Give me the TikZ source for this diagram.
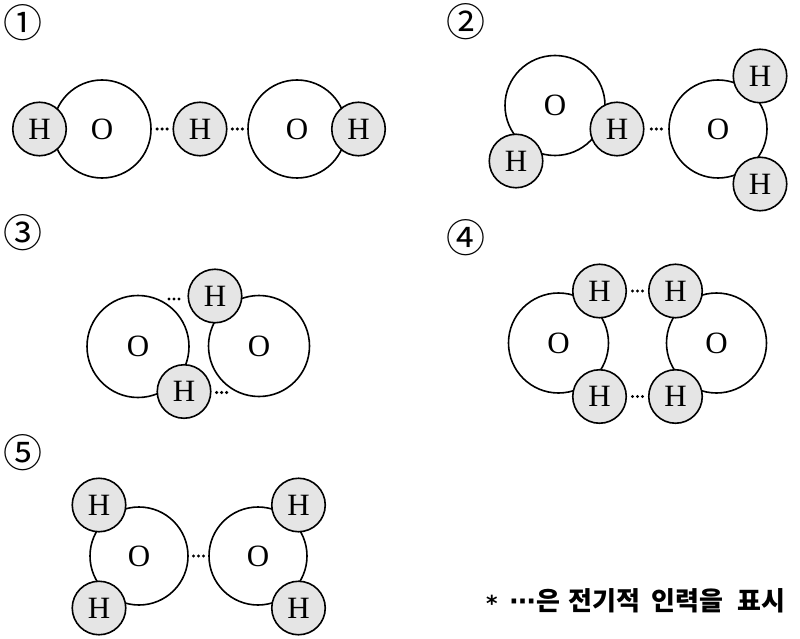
\documentclass[tikz,border=0pt]{standalone}
\usepackage{fontspec}
\setmainfont{Liberation Serif}
\newfontfamily\numfont{DejaVu Sans}
\newfontfamily\krfont{Noto Sans CJK KR}
\usetikzlibrary{calc}
\tikzset{
  atomO/.style={circle, draw, line width=1.6pt, fill=white, minimum size=98pt, inner sep=0pt, font=\fontsize{31}{31}\selectfont},
  atomH/.style={circle, draw, line width=1.6pt, fill=black!10, minimum size=53.5pt, inner sep=0pt, font=\fontsize{31}{31}\selectfont},
  hbond/.style={line width=3.4pt, line cap=round, dash pattern=on 0pt off 5pt},
  numlabel/.style={inner sep=0pt, font=\krfont\fontsize{39}{39}\selectfont},
}
\begin{document}
\begin{tikzpicture}[x=1pt,y=-1pt]
\useasboundingbox[fill=white] (0,0) rectangle (800,639);

% labels
\node[numlabel] (n1) at (22.7,23) {①};
\node[numlabel] (n2) at (465.5,22) {②};
\node[numlabel] (n3) at (22.7,233) {③};
\node[numlabel] (n4) at (465.5,237.5) {④};
\node[numlabel] (n5) at (22.7,452.7) {⑤};

% ---------- 1 ----------
\node[atomO] (O1a) at (102,129) {O};
\node[atomO] (O1b) at (297,129) {O};
\node[atomH] (H1a) at (39.5,129) {H};
\node[atomH] (H1m) at (200,129) {H};
\node[atomH] (H1b) at (358.5,129) {H};
\draw[hbond] ($(O1a.east)!0.5!(H1m.west)$) ++(-5,0) -- ++(10.2,0);
\draw[hbond] ($(H1m.east)!0.5!(O1b.west)$) ++(-5,0) -- ++(10.2,0);

% ---------- 2 ----------
\node[atomO, minimum size=100pt] (O2a) at (555,105.5) {O};
\node[atomO] (O2b) at (718,129) {O};
\node[atomH] (H2a) at (516,161) {H};
\node[atomH] (H2b) at (617,129) {H};
\node[atomH] (H2c) at (760,76) {H};
\node[atomH] (H2d) at (760,184) {H};
\draw[hbond] ($(H2b.east)!0.5!(O2b.west)$) ++(-5,0) -- ++(10.2,0);

% ---------- 3 ----------
\node[atomO, minimum size=102pt] (O3a) at (138,346.5) {O};
\node[atomO, minimum size=101pt] (O3b) at (259,346) {O};
\node[atomH] (H3a) at (215,296) {H};
\node[atomH] (H3b) at (184,391.5) {H};
\draw[hbond] ($(H3a.west)+(-13.5,3)$) ++(-5,0) -- ++(10.2,0);
\draw[hbond] ($(H3b.east)+(10,1)$) ++(-5,0) -- ++(10.2,0);

% ---------- 4 ----------
\node[atomO, minimum size=100pt] (O4a) at (558.5,343) {O};
\node[atomO, minimum size=100pt] (O4b) at (716.5,343) {O};
\node[atomH] (H4a) at (599.5,291) {H};
\node[atomH] (H4b) at (675.5,291) {H};
\node[atomH] (H4c) at (599.5,396.5) {H};
\node[atomH] (H4d) at (675.5,396.5) {H};
\draw[hbond] ($(H4a.east)!0.5!(H4b.west)$) ++(-5,0) -- ++(10.2,0);
\draw[hbond] ($(H4c.east)!0.5!(H4d.west)$) ++(-5,0) -- ++(10.2,0);

% ---------- 5 ----------
\node[atomO] (O5a) at (139,556) {O};
\node[atomO] (O5b) at (258,556) {O};
\node[atomH] (H5a) at (99,505) {H};
\node[atomH] (H5b) at (99,608) {H};
\node[atomH] (H5c) at (298.5,505) {H};
\node[atomH] (H5d) at (298.5,608) {H};
\draw[hbond] ($(O5a.east)!0.5!(O5b.west)$) ++(-5,0) -- ++(10.2,0);

% note
\node[anchor=west, inner sep=0pt, font=\krfont\bfseries\fontsize{26}{26}\selectfont] (note) at (486,601)
  {{\numfont\bfseries\fontsize{22}{22}\selectfont\raisebox{-1pt}{*}}\hspace{12pt}{\numfont\bfseries ⋯}\hspace{1pt}은\hspace{8pt}전기적\hspace{11pt}인력을\hspace{14pt}표시};
\end{tikzpicture}
\end{document}
